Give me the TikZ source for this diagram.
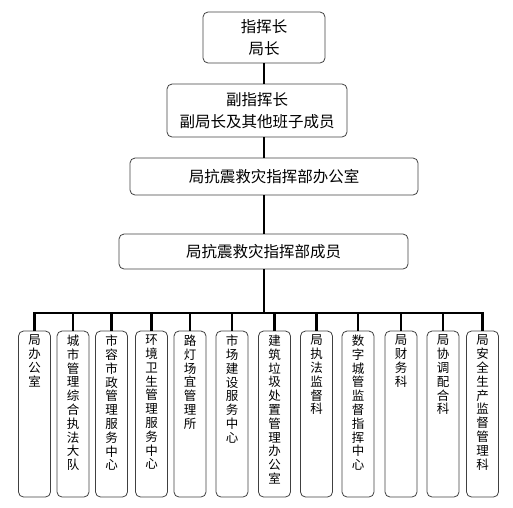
\documentclass[tikz,border=0pt]{standalone}
\usepackage{fontspec}
\setmainfont{Noto Sans CJK SC}
\newcommand{\colname}[1]{\parbox[c][158pt][t]{28pt}{\centering\fontsize{12.5}{13.8}\selectfont #1}}
\begin{document}
\begin{tikzpicture}[x=1pt,y=-1pt]
	\tikzstyle{every node}+=[inner sep=2pt]
	\tikzstyle{box}=[draw=black!75,line width=0.8pt,rounded corners=5pt,align=center,font=\fontsize{15.5}{22}\selectfont]
	\tikzstyle{col}=[draw=black!75,line width=0.8pt,rounded corners=5pt,minimum width=32pt,minimum height=166pt]
	\tikzstyle{link}=[line width=2.6pt]
	\useasboundingbox (0,0) rectangle (513,507);
	\node [box,minimum width=122pt,minimum height=51pt] (chief) at (264,37.5) {指挥长\\局长};
	\node [box,minimum width=180pt,minimum height=53pt] (deputy) at (257,110.5) {副指挥长\\副局长及其他班子成员};
	\node [box,minimum width=288pt,minimum height=37pt] (office) at (274,176.5) {局抗震救灾指挥部办公室};
	\node [box,minimum width=289pt,minimum height=35pt] (members) at (263.5,251.5) {局抗震救灾指挥部成员};
	\node [col] (c1) at (34.5,414) {\colname{局\\办\\公\\室}};
	\node [col] (c2) at (73,414) {\colname{城\\市\\管\\理\\综\\合\\执\\法\\大\\队}};
	\node [col] (c3) at (111.5,414) {\colname{市\\容\\市\\政\\管\\理\\服\\务\\中\\心}};
	\node [col] (c4) at (151.5,414) {\colname{环\\境\\卫\\生\\管\\理\\服\\务\\中\\心}};
	\node [col] (c5) at (190,414) {\colname{路\\灯\\场\\宜\\管\\理\\所}};
	\node [col] (c6) at (232,414) {\colname{市\\场\\建\\设\\服\\务\\中\\心}};
	\node [col] (c7) at (274.5,414) {\colname{建\\筑\\垃\\圾\\处\\置\\管\\理\\办\\公\\室}};
	\node [col] (c8) at (316.5,414) {\colname{局\\执\\法\\监\\督\\科}};
	\node [col] (c9) at (358,414) {\colname{数\\字\\城\\管\\监\\督\\指\\挥\\中\\心}};
	\node [col] (c10) at (401,414) {\colname{局\\财\\务\\科}};
	\node [col] (c11) at (443,414) {\colname{局\\协\\调\\配\\合\\科}};
	\node [col] (c12) at (482.5,414) {\colname{局\\安\\全\\生\\产\\监\\督\\管\\理\\科}};
	\coordinate (bus) at (264,313);
	\draw [link] (chief.south) -- (chief.south |- deputy.north);
	\draw [link] (chief.south |- deputy.south) -- (chief.south |- office.north);
	\draw [link] (chief.south |- office.south) -- (chief.south |- members.north);
	\draw [link] (chief.south |- members.south) -- (bus);
	\draw [link,line cap=rect] (c1.north |- bus) -- (c12.north |- bus);
	\foreach \i in {1,...,12}
		\draw [link] (c\i.north |- bus) -- (c\i.north);
\end{tikzpicture}
\end{document}
